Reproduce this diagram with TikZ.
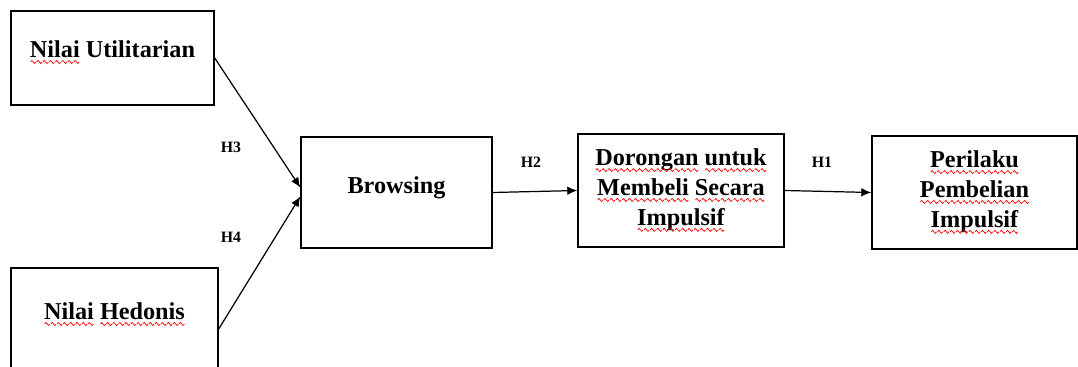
\documentclass[tikz,border=0pt]{standalone}
\usepackage{fontspec}
\setmainfont{Liberation Serif}
\usetikzlibrary{calc,arrows.meta}

% red spelling squiggle under a word
\newlength\sqlen
\newcommand\wavebit{\tikz[baseline=0pt]\draw[red,line width=0.4pt] (0,-2.6pt) .. controls (0.5pt,-1.4pt) and (1pt,-1.4pt) .. (1.5pt,-2.6pt) .. controls (2pt,-3.8pt) and (2.5pt,-3.8pt) .. (3pt,-2.6pt);}
\newcommand\sq[1]{\settowidth\sqlen{#1}\rlap{#1}\hbox to\sqlen{\xleaders\hbox{\wavebit}\hfill}}

\begin{document}
\begin{tikzpicture}[
		var/.style={draw,line width=0.8pt,align=center,font=\bfseries\fontsize{13.8}{17}\selectfont},
		hyp/.style={font=\bfseries\fontsize{9}{11}\selectfont},
		conn/.style={-{Latex[length=0.2cm,width=0.17cm]},line width=0.7pt}]
		
		\clip (0,0) rectangle (21.56,-7.34);
		
		\node (util) at (2.25,-1.16) [var,minimum width=4.06cm,minimum height=1.88cm,text depth=0.36cm] {\sq{Nilai} Utilitarian};
		\node (hed) at (2.29,-6.58) [var,minimum width=4.14cm,minimum height=2.44cm,text depth=0.72cm] {\sq{Nilai} \sq{Hedonis}};
		\node (brow) at (7.93,-3.85) [var,minimum width=3.82cm,minimum height=2.22cm,text depth=0.28cm] {Browsing};
		\node (dor) at (13.62,-3.81) [var,minimum width=4.12cm,minimum height=2.26cm] {\sq{Dorongan} \sq{untuk}\\\sq{Membeli} \sq{Secara}\\\sq{Impulsif}};
		\node (per) at (19.49,-3.85) [var,minimum width=4.10cm,minimum height=2.26cm] {\sq{Perilaku}\\\sq{Pembelian}\\\sq{Impulsif}};
		
		\draw[conn] (util.east) -- ([yshift=0.1cm]brow.west);
		\draw[conn] (hed.east) -- ([yshift=-0.08cm]brow.west);
		\draw[conn] (brow.east) -- (dor.west);
		\draw[conn] (dor.east) -- (per.west);
		
		\foreach \n/\x/\y in {1/16.44/-3.24, 2/10.62/-3.24, 3/4.62/-2.94, 4/4.62/-4.74} {
			\node (h\n) at (\x,\y) [hyp] {H\n};
		}
		
	\end{tikzpicture}
\end{document}
